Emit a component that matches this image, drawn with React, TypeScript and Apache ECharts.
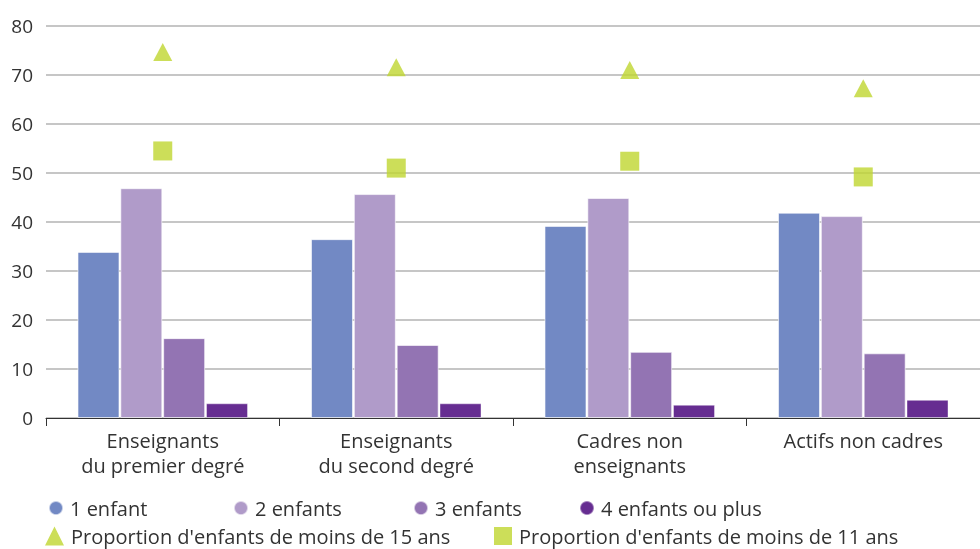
import React, { useEffect, useRef } from "react";
import * as echarts from "echarts";

const categories = [
  "Enseignants\ndu premier degré",
  "Enseignants\ndu second degré",
  "Cadres non\nenseignants",
  "Actifs non cadres",
];
const oneChild = [33.9, 36.5, 39.2, 41.9];
const twoChildren = [46.9, 45.7, 44.9, 41.2];
const threeChildren = [16.3, 14.9, 13.5, 13.2];
const fourPlus = [3.0, 3.0, 2.7, 3.7];
const under15 = [74.7, 71.6, 71.0, 67.3];
const under11 = [54.5, 51.0, 52.4, 49.2];
const yTicks = [0, 10, 20, 30, 40, 50, 60, 70, 80];

const FONT = "Open Sans";
const GREEN = "#bfd630";

export default function App() {
  const ref = useRef<HTMLDivElement>(null);
  useEffect(() => {
    if (!ref.current) return;
    const chart = echarts.init(ref.current, null, { renderer: "svg" });
    const barStyle = (c: string) => ({ color: c, borderColor: "rgba(255,255,255,0.6)", borderWidth: 1 });
    const legendText = { fontFamily: FONT, fontSize: 20, color: "#333", padding: [0, 0, 0, 2] };
    const mkLegend = (name: string, left: number, top: number, icon: string, w = 14, h = 14) => ({
      data: [{ name, icon }],
      left,
      top,
      itemWidth: w,
      itemHeight: h,
      itemGap: 0,
      textStyle: legendText,
      padding: 0,
      selectedMode: false,
    });
    chart.setOption({
      animation: false,
      textStyle: { fontFamily: FONT },
      grid: { left: 46, right: 0, top: 26, bottom: 131 },
      legend: [
        mkLegend("1 enfant", 48, 498, "circle"),
        mkLegend("2 enfants", 233, 498, "circle"),
        mkLegend("3 enfants", 413, 498, "circle"),
        mkLegend("4 enfants ou plus", 579, 498, "circle"),
        mkLegend("Proportion d'enfants de moins de 15 ans", 45, 526, "triangle", 19, 19),
        mkLegend("Proportion d'enfants de moins de 11 ans", 494, 526, "rect", 18, 18),
      ],
      xAxis: {
        type: "category",
        data: categories,
        boundaryGap: true,
        axisLine: { lineStyle: { color: "#333", width: 1 } },
        axisTick: { show: true, length: 8, lineStyle: { color: "#333" } },
        axisLabel: { fontFamily: FONT, fontSize: 20, color: "#333", lineHeight: 25, margin: 10 },
      },
      yAxis: {
        type: "value",
        min: yTicks[0],
        max: yTicks[yTicks.length - 1],
        interval: 10,
        axisLine: { show: false },
        axisTick: { show: false },
        axisLabel: { fontFamily: FONT, fontSize: 19, color: "#333", margin: 13 },
        splitLine: { lineStyle: { color: "#b3b3b3", width: 1.5 } },
      },
      series: [
        { name: "1 enfant", type: "bar", data: oneChild, barWidth: 42, barGap: "2%", barCategoryGap: "27%", itemStyle: barStyle("#7289c4") },
        { name: "2 enfants", type: "bar", data: twoChildren, barWidth: 42, barGap: "2%", itemStyle: barStyle("#b09bc9") },
        { name: "3 enfants", type: "bar", data: threeChildren, barWidth: 42, barGap: "2%", itemStyle: barStyle("#9374b3") },
        { name: "4 enfants ou plus", type: "bar", data: fourPlus, barWidth: 42, barGap: "2%", itemStyle: { color: "#662d91", borderColor: "rgba(255,255,255,0.4)", borderWidth: 1 } },
        { name: "Proportion d'enfants de moins de 15 ans", type: "scatter", data: under15, symbol: "triangle", symbolSize: [19, 18], itemStyle: { color: GREEN } },
        { name: "Proportion d'enfants de moins de 11 ans", type: "scatter", data: under11, symbol: "rect", symbolSize: 19, itemStyle: { color: GREEN } },
      ],
    });
    return () => chart.dispose();
  }, []);
  return <div ref={ref} style={{ position: "fixed", left: 0, top: 0, width: 980, height: 549 }} />;
}
